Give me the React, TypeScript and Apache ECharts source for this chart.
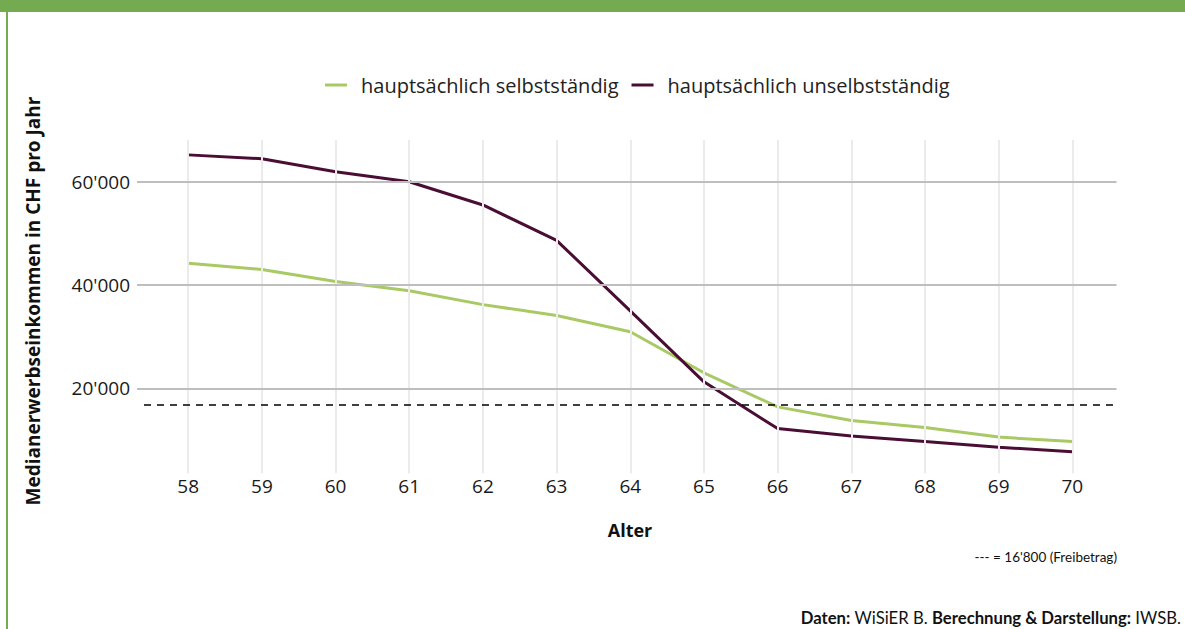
import React, { useEffect, useRef } from "react";
import * as echarts from "echarts";

const ages = [58, 59, 60, 61, 62, 63, 64, 65, 66, 67, 68, 69, 70];
const selbststaendig = [44200, 43000, 40700, 38900, 36200, 34100, 30950, 23000, 16400, 13750, 12400, 10550, 9700];
const unselbststaendig = [65200, 64450, 61950, 60000, 55500, 48650, 35000, 21250, 12200, 10750, 9700, 8600, 7700];
const yTicks = [20000, 40000, 60000];
const freibetrag = 16800;
const seriesNames = ["hauptsächlich selbstständig", "hauptsächlich unselbstständig"];

const FONT = "'Open Sans', 'Noto Sans', sans-serif";
const NOTE_FONT = "Lato, 'Open Sans', sans-serif";
const fmt = (v: number) => String(v).replace(/\B(?=(\d{3})+(?!\d))/g, "'");

export default function App() {
  const ref = useRef<HTMLDivElement>(null);
  useEffect(() => {
    if (!ref.current) return;
    const chart = echarts.init(ref.current, null, { renderer: "svg" });
    const pairs = (vals: number[]) => ages.map((a, i) => [a, vals[i]]);
    chart.setOption({
      animation: false,
      backgroundColor: "#ffffff",
      textStyle: { fontFamily: FONT },
      grid: { left: 144, right: 68.5, top: 140, bottom: 155.7, containLabel: false },
      legend: {
        top: 70,
        left: 320,
        icon: "rect",
        itemWidth: 22,
        itemHeight: 3,
        itemGap: 13,
        textStyle: { fontFamily: FONT, fontSize: 20, color: "#222222", padding: [0, 0, 0, 9] },
        data: seriesNames,
      },
      xAxis: {
        type: "value",
        min: 57.4,
        max: 70.6,
        axisLine: { show: false },
        axisTick: { show: false },
        splitLine: { show: false },
        axisLabel: {
          customValues: ages,
          margin: 3,
          fontFamily: FONT,
          fontSize: 19,
          color: "#1a1a1a",
        },
      },
      yAxis: {
        type: "value",
        min: 3540,
        max: 68080,
        axisLine: { show: false },
        splitLine: { show: false },
        axisTick: {
          show: true,
          customValues: yTicks,
          length: 7,
          lineStyle: { color: "#bebebe", width: 2 },
        },
        axisLabel: {
          customValues: yTicks,
          margin: 14,
          fontFamily: FONT,
          fontSize: 19,
          color: "#1a1a1a",
          formatter: (v: number) => fmt(v),
        },
      },
      graphic: [
        { type: "rect", shape: { x: 0, y: 0, width: 1185, height: 12 }, style: { fill: "#74aa50" } },
        { type: "rect", shape: { x: 6, y: 0, width: 2, height: 629 }, style: { fill: "#74aa50" } },
        {
          type: "text",
          x: 33,
          y: 301,
          rotation: Math.PI / 2,
          style: {
            text: "Medianerwerbseinkommen in CHF pro Jahr",
            font: `bold 19px ${FONT}`,
            fill: "#111111",
            align: "center",
            verticalAlign: "middle",
          },
        },
        {
          type: "text",
          x: 630,
          y: 530,
          style: { text: "Alter", font: `bold 18px ${FONT}`, fill: "#111111", align: "center", verticalAlign: "middle" },
        },
        {
          type: "text",
          x: 1117,
          y: 557,
          style: {
            text: "--- = " + fmt(freibetrag) + " (Freibetrag)",
            font: `13.5px ${NOTE_FONT}`,
            fill: "#111111",
            align: "right",
            verticalAlign: "middle",
          },
        },
        {
          type: "text",
          x: 1181,
          y: 618,
          style: {
            text: "{b|Daten:} WiSiER B. {b|Berechnung & Darstellung:} IWSB.",
            font: `16.7px ${NOTE_FONT}`,
            fill: "#111111",
            align: "right",
            verticalAlign: "middle",
            rich: { b: { fontWeight: "bold", fontSize: 16.7, fontFamily: NOTE_FONT, fill: "#111111" } },
          },
        },
      ],
      series: [
        {
          name: "grid",
          type: "line",
          data: [],
          silent: true,
          z: 1,
          markLine: {
            silent: true,
            symbol: "none",
            label: { show: false },
            data: [
              ...ages.map((a) => ({ xAxis: a, lineStyle: { color: "#ebebeb", width: 2, type: "solid" } })),
              ...yTicks.map((t) => ({ yAxis: t, lineStyle: { color: "#bebebe", width: 2, type: "solid" } })),
            ],
          },
        },
        {
          name: seriesNames[0],
          type: "line",
          data: pairs(selbststaendig),
          showSymbol: false,
          symbol: "none",
          z: 3,
          color: "#a9c964",
          lineStyle: { color: "#a9c964", width: 3 },
        },
        {
          name: seriesNames[1],
          type: "line",
          data: pairs(unselbststaendig),
          showSymbol: false,
          symbol: "none",
          z: 4,
          color: "#4a0e35",
          lineStyle: { color: "#4a0e35", width: 3 },
        },
        {
          name: "freibetrag",
          type: "line",
          data: [],
          silent: true,
          z: 5,
          markLine: {
            silent: true,
            symbol: "none",
            label: { show: false },
            data: [{ yAxis: freibetrag }],
            lineStyle: { color: "#000000", width: 1.5, type: [7, 6] },
          },
        },
      ],
    });
    return () => chart.dispose();
  }, []);
  return <div ref={ref} style={{ position: "fixed", left: 0, top: 0, width: 1185, height: 629 }} />;
}
